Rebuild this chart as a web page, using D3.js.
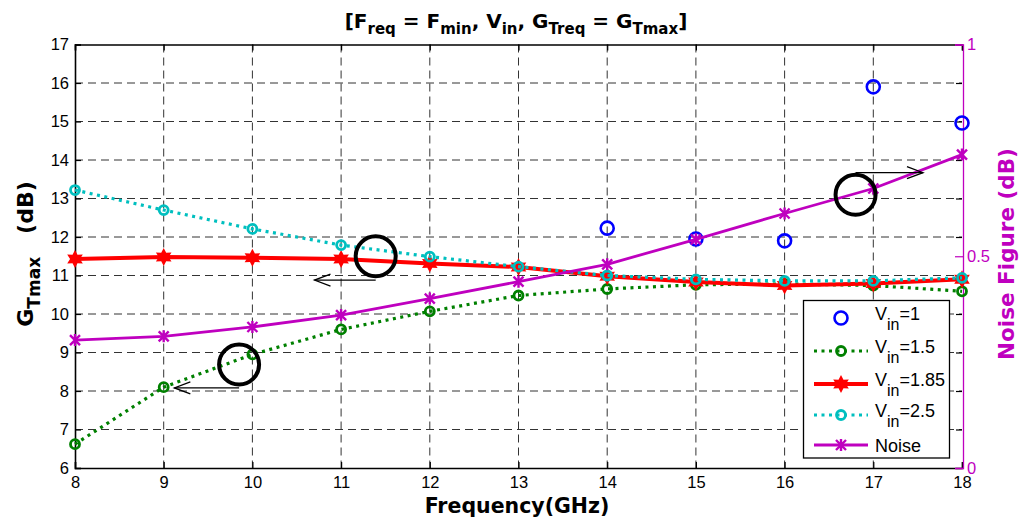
<!DOCTYPE html>
<html>
<head>
<meta charset="utf-8">
<script src="https://cdnjs.cloudflare.com/ajax/libs/d3/7.8.5/d3.min.js"></script>
<style>
body{margin:0;background:#fff;}
text{font-family:"Liberation Sans",Arial,sans-serif;}
.bold{font-family:"DejaVu Sans",Verdana,sans-serif;font-weight:bold;}
</style>
</head>
<body>
<svg id="chart" width="1021" height="521"></svg>
<script>

// data
var freq = [8,9,10,11,12,13,14,15,16,17,18];
var xTicks = [8,9,10,11,12,13,14,15,16,17,18];
var yTicks = [6,7,8,9,10,11,12,13,14,15,16,17];
var nfTicks = [0,0.5,1];

var freqVin1 = [14,15,16,17,18];
var gVin1 = [12.23,11.95,11.9,15.9,14.96];
var gVin15 = [6.62,8.1,8.95,9.6,10.07,10.48,10.65,10.76,10.78,10.74,10.59];
var gVin185 = [11.43,11.48,11.46,11.43,11.31,11.22,10.98,10.83,10.74,10.79,10.9];
var gVin25 = [13.22,12.7,12.21,11.79,11.49,11.23,11.0,10.9,10.86,10.86,10.94];
var noiseFig = [0.302,0.311,0.333,0.361,0.40,0.44,0.481,0.54,0.601,0.66,0.74];

var legendNames = ["1","1.5","1.85","2.5","Noise"];

var svg = d3.select("#chart");

var pLeft = 75, pRight = 962, pTop = 44.5, pBottom = 468;

var x = d3.scaleLinear().domain([8,18]).range([pLeft,pRight]);
var y = d3.scaleLinear().domain([6,17]).range([pBottom,pTop]);
var y2 = d3.scaleLinear().domain([0,1]).range([pBottom,pTop]);

//******** grid *********//
svg.append("g").selectAll("line").data(xTicks.slice(1,-1)).enter().append("line")
	.attr("x1",function(d){return x(d)}).attr("x2",function(d){return x(d)})
	.attr("y1",pTop).attr("y2",pBottom)
	.attr("stroke","#333").attr("stroke-width",1).attr("stroke-dasharray","8,5");

svg.append("g").selectAll("line").data(yTicks.slice(1,-1)).enter().append("line")
	.attr("y1",function(d){return y(d)}).attr("y2",function(d){return y(d)})
	.attr("x1",pLeft).attr("x2",pRight)
	.attr("stroke","#333").attr("stroke-width",1).attr("stroke-dasharray","8,5");

//******** axes *********//
var xAxis = svg.append("g").attr("transform","translate(0,"+pBottom+")")
	.call(d3.axisBottom(x).tickValues(xTicks).tickSize(-6).tickPadding(8).tickFormat(d3.format("d")));
var xTop = svg.append("g").attr("transform","translate(0,"+pTop+")")
	.call(d3.axisTop(x).tickValues(xTicks).tickSize(-6).tickFormat(""));
var yAxis = svg.append("g").attr("transform","translate("+pLeft+",0)")
	.call(d3.axisLeft(y).tickValues(yTicks).tickSize(-6).tickPadding(6));
var yRight = svg.append("g").attr("transform","translate("+pRight+",0)")
	.call(d3.axisRight(y).tickValues(yTicks).tickSize(-6).tickFormat(""));

[xAxis,xTop,yAxis,yRight].forEach(function(a){
	a.attr("font-size",16.5).attr("font-family","Liberation Sans, Arial, sans-serif");
	a.select(".domain").attr("stroke","#000").attr("stroke-width",1.6);
	a.selectAll(".tick line").attr("stroke","#000").attr("stroke-width",1.2);
	a.selectAll("text").attr("fill","#000");
});
yRight.select(".domain").remove();

var nfAxis = svg.append("g").attr("transform","translate("+(pRight+1)+",0)")
	.call(d3.axisRight(y2).tickValues(nfTicks).tickSize(-8).tickPadding(4).tickFormat(d3.format("")));
nfAxis.attr("font-size",16.5).attr("font-family","Liberation Sans, Arial, sans-serif");
nfAxis.select(".domain").attr("stroke","#bf00bf").attr("stroke-width",1.3);
nfAxis.selectAll(".tick line").attr("stroke","#bf00bf").attr("stroke-width",1.2);
nfAxis.selectAll("text").attr("fill","#bf00bf");

//******** markers *********//
function hexagram(r){
	var pts=[];
	for(var i=0;i<12;i++){
		var a = Math.PI/6*i - Math.PI/2;
		var rr = (i%2==0)? r : r*0.55;
		pts.push([rr*Math.cos(a), rr*Math.sin(a)]);
	}
	return "M"+pts.map(function(p){return p.join(",")}).join("L")+"Z";
}

function drawLine(xs, ys, sc, color, width, dash){
	var line = d3.line().x(function(d,i){return x(xs[i])}).y(function(d){return sc(d)});
	svg.append("path").datum(ys).attr("d",line)
		.attr("fill","none").attr("stroke",color).attr("stroke-width",width)
		.attr("stroke-dasharray",dash).attr("stroke-linejoin","round");
}

function circles(xs, ys, color, r, sw){
	svg.append("g").selectAll("circle").data(ys).enter().append("circle")
		.attr("cx",function(d,i){return x(xs[i])}).attr("cy",function(d){return y(d)})
		.attr("r",r).attr("fill","none").attr("stroke",color).attr("stroke-width",sw);
}

// Vin=1
circles(freqVin1, gVin1, "#0000ff", 6.5, 2.6);

// Vin=1.5
drawLine(freq, gVin15, y, "#008000", 3.2, "3,4.5");
circles(freq, gVin15, "#008000", 4.5, 2.8);

// Vin=1.85
drawLine(freq, gVin185, y, "#ff0000", 4, null);
svg.append("g").selectAll("path").data(gVin185).enter().append("path")
	.attr("transform",function(d,i){return "translate("+x(freq[i])+","+y(d)+")"})
	.attr("d",hexagram(9)).attr("fill","#ff0000");

// Vin=2.5
drawLine(freq, gVin25, y, "#00bfbf", 3.2, "3,4.5");
circles(freq, gVin25, "#00bfbf", 4.5, 2.8);

// Noise
drawLine(freq, noiseFig, y2, "#bf00bf", 2.8, null);
svg.append("g").selectAll("path").data(noiseFig).enter().append("path")
	.attr("transform",function(d,i){return "translate("+x(freq[i])+","+y2(d)+")"})
	.attr("d","M-5,-5L5,5M-5,5L5,-5M0,-6L0,6").attr("stroke","#bf00bf").attr("stroke-width",2.4);

//******** annotation circles and arrows *********//
var notes = [
	{cx:11.39, cy:11.5, ax1:11.39, ax2:10.7, ay:10.88},
	{cx:9.85, cy:8.69, ax1:9.85, ax2:9.12, ay:8.08},
	{cx:16.8, cy:13.1, ax1:16.8, ax2:17.56, ay:13.67}
];
notes.forEach(function(n){
	svg.append("line").attr("x1",x(n.ax1)).attr("x2",x(n.ax2))
		.attr("y1",y(n.ay)).attr("y2",y(n.ay)).attr("stroke","#000").attr("stroke-width",1.3);
	var dir = n.ax2 < n.ax1 ? 1 : -1;
	svg.append("path")
		.attr("d","M"+(x(n.ax2)+dir*16)+","+(y(n.ay)-6)+"L"+x(n.ax2)+","+y(n.ay)+"L"+(x(n.ax2)+dir*16)+","+(y(n.ay)+6))
		.attr("fill","none").attr("stroke","#000").attr("stroke-width",1.3);
	svg.append("circle").attr("cx",x(n.cx)).attr("cy",y(n.cy)).attr("r",20)
		.attr("fill","none").attr("stroke","#000").attr("stroke-width",4);
});

//******** legend *********//
var lg = svg.append("g");
lg.append("rect").attr("x",803.5).attr("y",300.5).attr("width",146).attr("height",157.5)
	.attr("fill","#fff").attr("stroke","#000").attr("stroke-width",1.3);

var legendRows = [318,351,384,415,445];
legendNames.forEach(function(d,i){
	var ly = legendRows[i];
	if(i==1 || i==3){
		var c = i==1 ? "#008000" : "#00bfbf";
		lg.append("line").attr("x1",814).attr("x2",868).attr("y1",ly).attr("y2",ly)
			.attr("stroke",c).attr("stroke-width",3.2).attr("stroke-dasharray","3,4.5");
		lg.append("circle").attr("cx",841).attr("cy",ly).attr("r",4.5)
			.attr("fill","none").attr("stroke",c).attr("stroke-width",2.8);
	}
	if(i==0){
		lg.append("circle").attr("cx",841).attr("cy",ly).attr("r",6.5)
			.attr("fill","none").attr("stroke","#0000ff").attr("stroke-width",2.6);
	}
	if(i==2){
		lg.append("line").attr("x1",814).attr("x2",868).attr("y1",ly).attr("y2",ly)
			.attr("stroke","#ff0000").attr("stroke-width",4);
		lg.append("path").attr("transform","translate(841,"+ly+")").attr("d",hexagram(9)).attr("fill","#ff0000");
	}
	if(i==4){
		lg.append("line").attr("x1",814).attr("x2",868).attr("y1",ly).attr("y2",ly)
			.attr("stroke","#bf00bf").attr("stroke-width",2.8);
		lg.append("path").attr("transform","translate(841,"+ly+")")
			.attr("d","M-5,-5L5,5M-5,5L5,-5M0,-6L0,6").attr("stroke","#bf00bf").attr("stroke-width",2.4);
		lg.append("text").attr("x",875).attr("y",ly+7).attr("font-size",18).text("Noise");
		return;
	}
	var t = lg.append("text").attr("x",875).attr("y",ly+2).attr("font-size",18);
	t.append("tspan").text("V");
	t.append("tspan").attr("dy",10).attr("font-size",16).text("in");
	t.append("tspan").attr("dy",-10).text("="+d);
});

//******** titles *********//
var title = svg.append("text").attr("class","bold").attr("x",516).attr("y",28)
	.attr("text-anchor","middle").attr("font-size",20);
var titleParts = [["[F","req"],[" = F","min"],[", V","in"],[", G","Treq"],[" = G","Tmax"]];
titleParts.forEach(function(p,i){
	title.append("tspan").attr("dy", i==0 ? 0 : -6).text(p[0]);
	title.append("tspan").attr("dy",6).attr("font-size",15).text(p[1]);
});
title.append("tspan").attr("dy",-6).text("]");

svg.append("text").attr("class","bold").attr("x",517).attr("y",513)
	.attr("text-anchor","middle").attr("font-size",20.5).text("Frequency(GHz)");

var yl = svg.append("text").attr("class","bold")
	.attr("transform","translate(33,254) rotate(-90)")
	.attr("text-anchor","middle").attr("font-size",22);
yl.append("tspan").text("G");
yl.append("tspan").attr("dy",7).attr("font-size",17).text("Tmax");
yl.append("tspan").attr("dy",-7).attr("xml:space","preserve").text("   (dB)");

svg.append("text").attr("class","bold")
	.attr("transform","translate(1014,254) rotate(-90)")
	.attr("text-anchor","middle").attr("font-size",21.5).attr("fill","#bf00bf")
	.text("Noise Figure (dB)");

</script>
</body>
</html>
